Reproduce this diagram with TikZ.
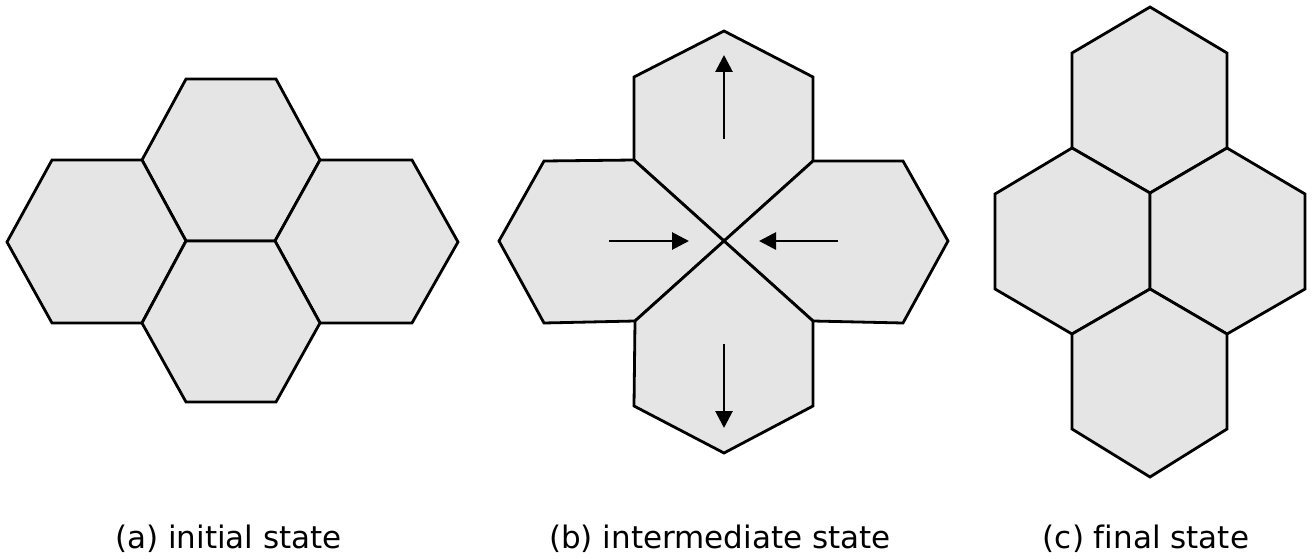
\documentclass[tikz,border=0pt]{standalone}
\usepackage{fontspec}
\setmainfont{DejaVu Sans}[Ligatures=NoCommon]
\usetikzlibrary{arrows.meta}
\definecolor{hexgray}{HTML}{E5E5E5}
\tikzset{
  hexcell/.style={draw=black, fill=hexgray, line width=2.8pt, line join=miter},
  movearrow/.style={line width=2.8pt, -{Triangle[length=17pt,width=17pt]}},
  caption/.style={anchor=base, inner sep=0pt, font=\fontsize{31}{37}\selectfont}
}
\begin{document}
\begin{tikzpicture}[x=1pt, y=-1pt]
\useasboundingbox (0,0) rectangle (1314,559);

% (a) initial state: flat-topped cells
\draw[hexcell] (186,79) -- (276,79) -- (320,160) -- (275,241) -- (186,241) -- (142,160) -- cycle;
\draw[hexcell] (52,160) -- (142,160) -- (186,241) -- (142,323) -- (52,323) -- (7,242) -- cycle;
\draw[hexcell] (320,160) -- (412,160) -- (458,242) -- (412,323) -- (320,323) -- (275,241) -- cycle;
\draw[hexcell] (186,241) -- (275,241) -- (320,323) -- (276,402) -- (186,402) -- (142,323) -- cycle;

% (b) intermediate state: cells meeting at one point
\draw[hexcell] (724,31) -- (813,77) -- (813,161) -- (724,241) -- (634,160) -- (634,77) -- cycle;
\draw[hexcell] (544,161) -- (634,160) -- (724,241) -- (635,321) -- (544,323) -- (499,241) -- cycle;
\draw[hexcell] (813,161) -- (903,161) -- (948,241) -- (903,323) -- (813,321) -- (724,241) -- cycle;
\draw[hexcell] (635,321) -- (724,241) -- (813,321) -- (813,406) -- (724,453) -- (634,406) -- cycle;

\coordinate (upT) at (724,139);  \coordinate (upH) at (724,55);
\coordinate (rtT) at (609,241);  \coordinate (rtH) at (689,241);
\coordinate (ltT) at (838,241);  \coordinate (ltH) at (759,241);
\coordinate (dnT) at (724,344);  \coordinate (dnH) at (724,428);
\draw[movearrow] (upT) -- (upH);
\draw[movearrow] (rtT) -- (rtH);
\draw[movearrow] (ltT) -- (ltH);
\draw[movearrow] (dnT) -- (dnH);

% (c) final state: pointy-topped cells
\draw[hexcell] (1150,7) -- (1227,53) -- (1227,148) -- (1150,193) -- (1072,148) -- (1072,53) -- cycle;
\draw[hexcell] (1072,148) -- (1150,193) -- (1150,289) -- (1072,334) -- (995,289) -- (995,194) -- cycle;
\draw[hexcell] (1227,148) -- (1305,194) -- (1305,289) -- (1227,334) -- (1150,289) -- (1150,193) -- cycle;
\draw[hexcell] (1150,289) -- (1227,334) -- (1227,429) -- (1150,477) -- (1072,429) -- (1072,334) -- cycle;

% captions
\node[caption] (capa) at (228.5,548) {(a) initial state};
\node[caption] (capb) at (720,548) {(b) intermediate state};
\node[caption] (capc) at (1146,548) {(c) final state};
\end{tikzpicture}
\end{document}
